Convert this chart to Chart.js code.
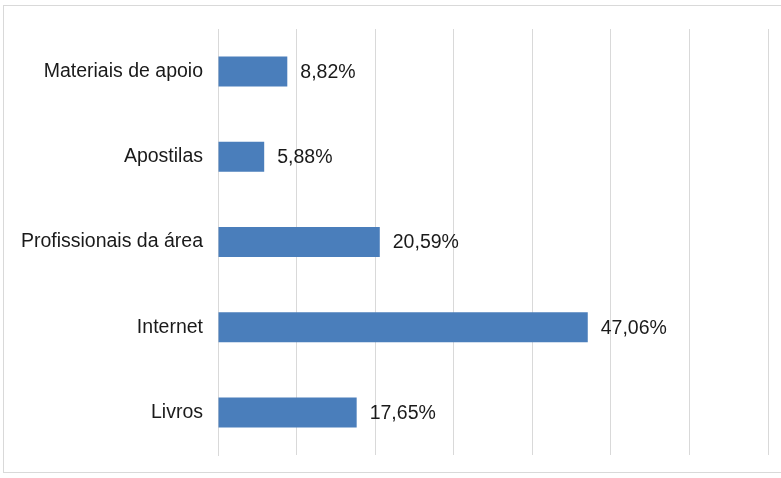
<!DOCTYPE html>
<html>
<head>
<meta charset="utf-8">
<script src="https://cdn.jsdelivr.net/npm/chart.js@4/dist/chart.umd.min.js"></script>
<style>
  html, body { margin: 0; padding: 0; background: #ffffff; }
  #wrap { position: relative; width: 781px; height: 478px; overflow: hidden; }
  #frame { position: absolute; left: 3px; top: 5px; width: 800px; height: 468px; border: 1px solid #d9d9d9; box-sizing: border-box; }
  canvas { position: absolute; left: 0; top: 0; }
</style>
</head>
<body>
<div id="wrap">
  <div id="frame"></div>
  <canvas id="c" width="781" height="478"></canvas>
</div>
<script>
const categories = ["Materiais de apoio", "Apostilas", "Profissionais da área", "Internet", "Livros"];
const values = [8.82, 5.88, 20.59, 47.06, 17.65];
const valueLabels = ["8,82%", "5,88%", "20,59%", "47,06%", "17,65%"];
const axisMax = 70;
const axisStep = 10;

const FONT = "'Liberation Sans', Arial, sans-serif";

const labelPlugin = {
  id: 'barLabels',
  afterDatasetsDraw(chart) {
    const ctx = chart.ctx;
    const meta = chart.getDatasetMeta(0);
    ctx.save();
    ctx.font = "19.5px " + FONT;
    ctx.fillStyle = "#1a1a1a";
    ctx.textAlign = "left";
    ctx.textBaseline = "middle";
    meta.data.forEach((bar, i) => {
      ctx.fillText(valueLabels[i], bar.x + 13, bar.y + 1);
    });
    ctx.restore();
  }
};

new Chart(document.getElementById('c'), {
  type: 'bar',
  data: {
    labels: categories,
    datasets: [{
      data: values,
      backgroundColor: '#4a7ebb',
      borderColor: '#4a7ebb',
      borderWidth: 0,
      barPercentage: 0.352,
      categoryPercentage: 1.0
    }]
  },
  options: {
    indexAxis: 'y',
    responsive: false,
    animation: false,
    devicePixelRatio: 1,
    layout: { padding: { top: 29, bottom: 23, right: 13, left: 0 } },
    plugins: { legend: { display: false }, tooltip: { enabled: false } },
    scales: {
      x: {
        min: 0, max: axisMax,
        afterFit(scale) { scale.height = 0; scale.paddingLeft = 0; scale.paddingRight = 0; },
        ticks: { display: false, stepSize: axisStep },
        grid: { color: '#d9d9d9', lineWidth: 1, drawTicks: false },
        border: { display: false }
      },
      y: {
        afterFit(scale) { scale.width = 218; scale.paddingTop = 0; scale.paddingBottom = 0; },
        ticks: { color: '#1a1a1a', font: { family: FONT, size: 19.5 }, padding: 15 },
        grid: { display: false, drawTicks: false },
        border: { display: true, color: '#d9d9d9', width: 1 }
      }
    }
  },
  plugins: [labelPlugin]
});
</script>
</body>
</html>
